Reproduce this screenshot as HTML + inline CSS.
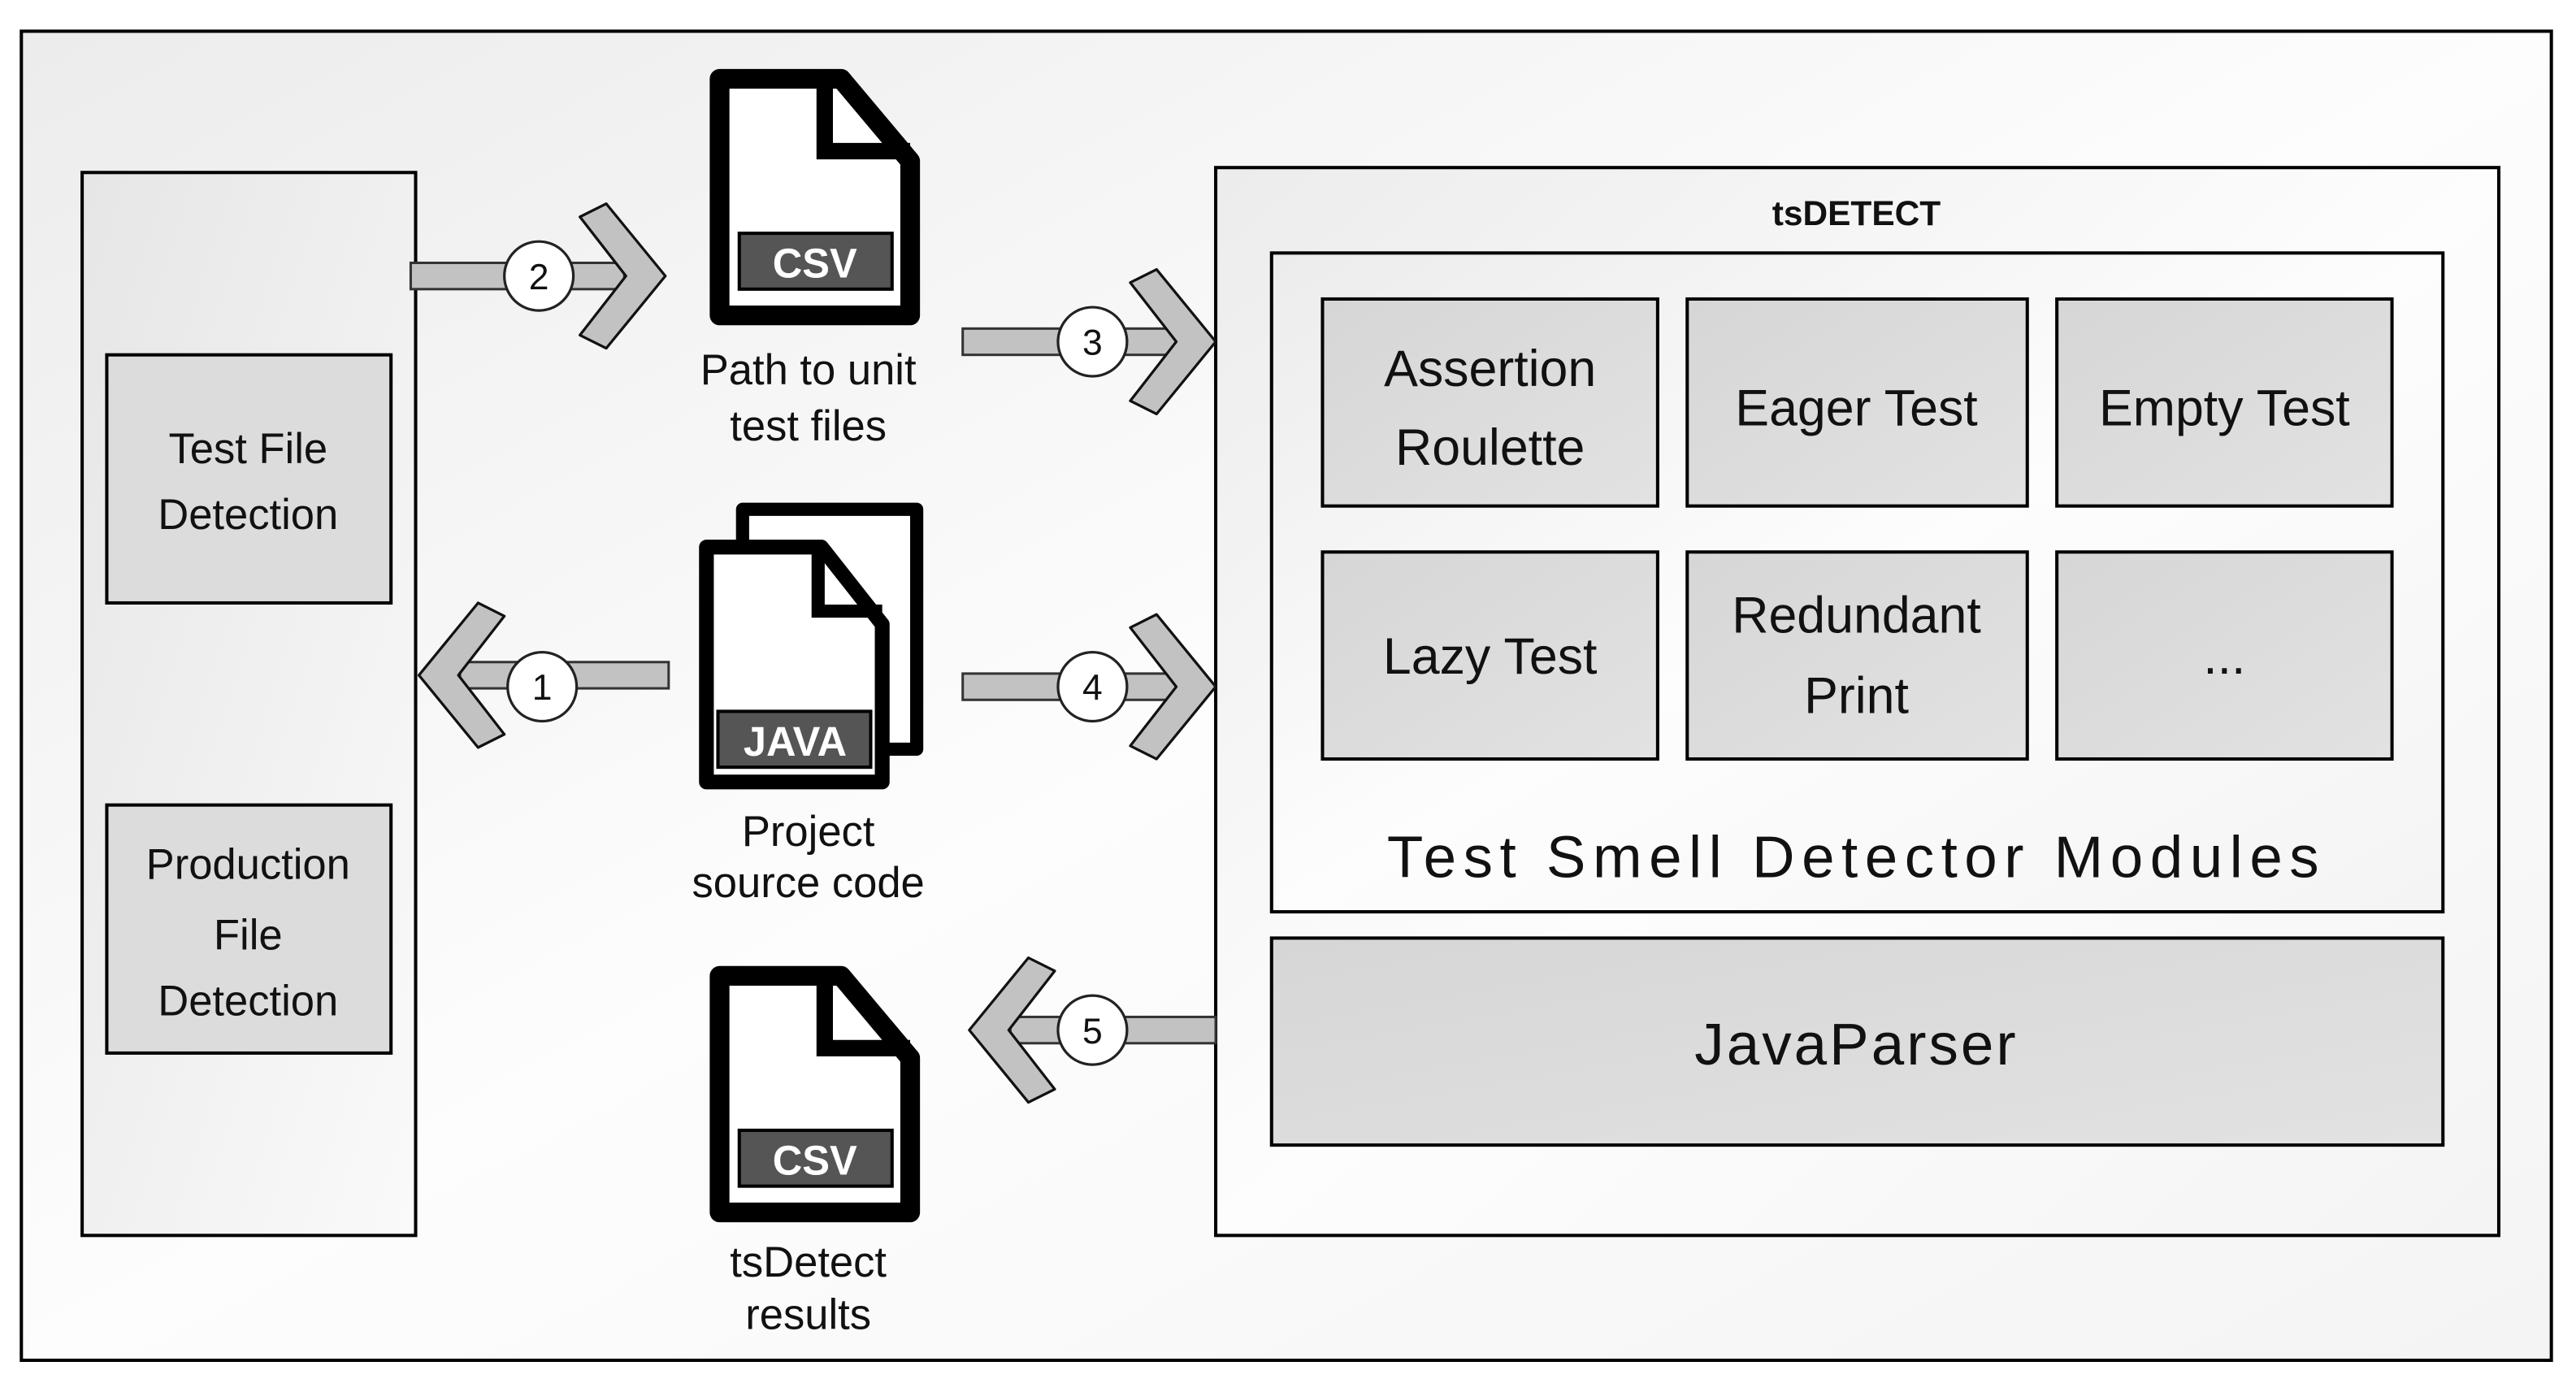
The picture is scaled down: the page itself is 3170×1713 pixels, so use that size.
<!DOCTYPE html>
<html><head><meta charset="utf-8"><style>
html,body{margin:0;padding:0;background:#fff;}
svg{display:block;}
text{font-family:"Liberation Sans",sans-serif;fill:#111;}
</style></head><body>
<svg width="3170" height="1713" viewBox="0 0 1568 847.3" preserveAspectRatio="none" xmlns="http://www.w3.org/2000/svg">
<defs>
<linearGradient id="bg" x1="0" y1="0" x2="1" y2="1"><stop offset="0" stop-color="#ececec"/><stop offset="0.5" stop-color="#fdfdfd"/><stop offset="1" stop-color="#f4f4f4"/></linearGradient>
<linearGradient id="lb" x1="0" y1="0" x2="1" y2="1"><stop offset="0" stop-color="#e6e6e6"/><stop offset="1" stop-color="#fafafa"/></linearGradient>
<linearGradient id="cell" x1="0" y1="0" x2="1" y2="1"><stop offset="0" stop-color="#d6d6d6"/><stop offset="1" stop-color="#e2e2e2"/></linearGradient>
<g id="chevR"><polygon points="0,0 -36,-44 -52,-36 -24,0 -52,36 -36,44" fill="#c2c2c2" stroke="#111" stroke-width="1.6" stroke-linejoin="round"/></g>
</defs>
<rect x="13" y="19" width="1540" height="809" fill="url(#bg)" stroke="#000" stroke-width="2"/>
<rect x="50" y="105" width="203" height="647" fill="url(#lb)" stroke="#000" stroke-width="2"/>
<rect x="65" y="216" width="173" height="151" fill="#dcdcdc" stroke="#000" stroke-width="2"/>
<text x="151" y="282" font-size="26" text-anchor="middle">Test File</text>
<text x="151" y="322" font-size="26" text-anchor="middle">Detection</text>
<rect x="65" y="490" width="173" height="151" fill="#dcdcdc" stroke="#000" stroke-width="2"/>
<text x="151" y="535" font-size="26" text-anchor="middle">Production</text>
<text x="151" y="578" font-size="26" text-anchor="middle">File</text>
<text x="151" y="618" font-size="26" text-anchor="middle">Detection</text>
<rect x="740" y="102" width="781" height="650" fill="url(#bg)" stroke="#000" stroke-width="2"/>
<text x="1130" y="137" font-size="21" font-weight="bold" text-anchor="middle">tsDETECT</text>
<rect x="774" y="154" width="713" height="401" fill="url(#bg)" stroke="#000" stroke-width="2"/>
<g stroke="#000" stroke-width="2" fill="url(#cell)">
<rect x="805" y="182" width="204" height="126"/><rect x="1027" y="182" width="207" height="126"/><rect x="1252" y="182" width="204" height="126"/>
<rect x="805" y="336" width="204" height="126"/><rect x="1027" y="336" width="207" height="126"/><rect x="1252" y="336" width="204" height="126"/>
</g>
<g font-size="31" text-anchor="middle">
<text x="907" y="235">Assertion</text><text x="907" y="283">Roulette</text>
<text x="1130" y="259">Eager Test</text>
<text x="1354" y="259">Empty Test</text>
<text x="907" y="410">Lazy Test</text>
<text x="1130" y="385">Redundant</text><text x="1130" y="434">Print</text>
<text x="1354" y="410">...</text>
</g>
<text x="1130" y="534" font-size="36" text-anchor="middle" letter-spacing="4.2">Test Smell Detector Modules</text>
<rect x="774" y="571" width="713" height="126" fill="url(#cell)" stroke="#000" stroke-width="2"/>
<text x="1130" y="648" font-size="36" text-anchor="middle" letter-spacing="1.5">JavaParser</text>
<g id="csv">
<path d="M438,48 H512 L554,98 V192 H438 Z" fill="#fff" stroke="#000" stroke-width="12" stroke-linejoin="round"/>
<path d="M502,48 V92 H554" fill="none" stroke="#000" stroke-width="10"/>
<rect x="450" y="142" width="93" height="34" fill="#555" stroke="#000" stroke-width="2"/>
<text x="496" y="169" font-size="25" font-weight="bold" text-anchor="middle" style="fill:#fff">CSV</text>
</g>
<use href="#csv" transform="translate(0,546)"/>
<text x="492" y="234" font-size="26" text-anchor="middle">Path to unit</text>
<text x="492" y="268" font-size="26" text-anchor="middle">test files</text>
<path d="M452,310 H558 V456 H452 Z" fill="#fff" stroke="#000" stroke-width="8" stroke-linejoin="round"/>
<path d="M430,333 H500 L537,380 V476 H430 Z" fill="#fff" stroke="#000" stroke-width="9" stroke-linejoin="round"/>
<path d="M498,333 V372 H537" fill="none" stroke="#000" stroke-width="8"/>
<rect x="437" y="433" width="93" height="34" fill="#555" stroke="#000" stroke-width="2"/>
<text x="484" y="460" font-size="25" font-weight="bold" text-anchor="middle" style="fill:#fff">JAVA</text>
<text x="492" y="515" font-size="26" text-anchor="middle">Project</text>
<text x="492" y="546" font-size="26" text-anchor="middle">source code</text>
<text x="492" y="777" font-size="26" text-anchor="middle">tsDetect</text>
<text x="492" y="809" font-size="26" text-anchor="middle">results</text>
<g fill="#c2c2c2" stroke="#333" stroke-width="1.5">
<rect x="250" y="160" width="130" height="16"/>
<rect x="586" y="200" width="130" height="16"/>
<rect x="280" y="403" width="127" height="16"/>
<rect x="586" y="410" width="130" height="16"/>
<rect x="615" y="619" width="125" height="16"/>
</g>
<use href="#chevR" transform="translate(405,168)"/>
<use href="#chevR" transform="translate(740,208)"/>
<use href="#chevR" transform="translate(740,418)"/>
<use href="#chevR" transform="translate(255,411) scale(-1,1)"/>
<use href="#chevR" transform="translate(590,627) scale(-1,1)"/>
<g fill="#fff" stroke="#222" stroke-width="1.6">
<circle cx="328" cy="168" r="21"/><circle cx="665" cy="208" r="21"/><circle cx="330" cy="418" r="21"/><circle cx="665" cy="418" r="21"/><circle cx="665" cy="627" r="21"/>
</g>
<g font-size="22" text-anchor="middle">
<text x="328" y="176">2</text><text x="665" y="216">3</text><text x="330" y="426">1</text><text x="665" y="426">4</text><text x="665" y="635">5</text>
</g>
</svg>
</body></html>
